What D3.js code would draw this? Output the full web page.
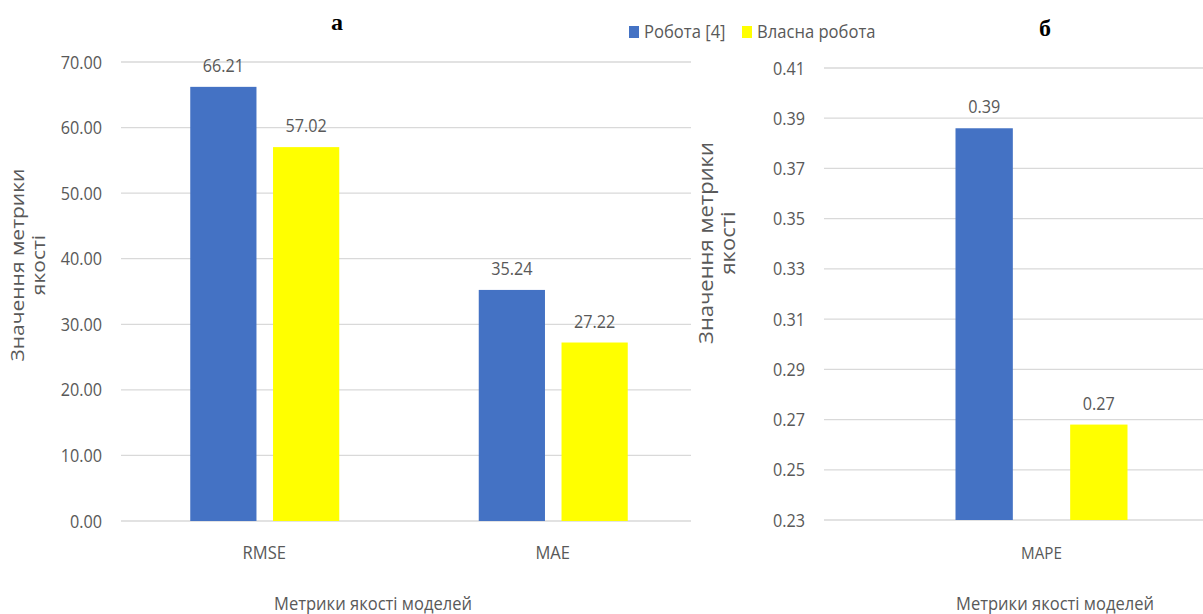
<!DOCTYPE html>
<html><head><meta charset="utf-8">
<script src="https://cdn.jsdelivr.net/npm/d3@7"></script>
<style>
body{margin:0;background:#fff;}
svg{display:block;}
.lab{font-family:"Open Sans","Noto Sans",sans-serif;fill:#595959;}
.ptitle{font-family:"Liberation Serif","Times New Roman",serif;font-weight:bold;fill:#000;}
</style></head>
<body>
<script>
const seriesNames = ["Робота [4]", "Власна робота"];
const seriesColors = ["#4472C4", "#FFFF00"];
const catsA = ["RMSE", "MAE"];
const valsA_work4 = [66.21, 35.24];
const valsA_own = [57.02, 27.22];
const ticksA = [0, 10, 20, 30, 40, 50, 60, 70];
const catsB = ["MAPE"];
const valsB_work4 = [0.386];
const valsB_own = [0.268];
const ticksB = [0.23, 0.25, 0.27, 0.29, 0.31, 0.33, 0.35, 0.37, 0.39, 0.41];
const xTitle = "Метрики якості моделей";
const yTitle1 = "Значення метрики";
const yTitle2 = "якості";

const W = 1203, H = 614;
const svg = d3.select("body").append("svg").attr("width", W).attr("height", H);

function label(sel, x, y, size, anchor, sx) {
  return sel.append("text").attr("class", "lab")
    .attr("transform", `translate(${x},${y}) scale(${sx || 0.92},1)`)
    .attr("text-anchor", anchor).style("font-size", size);
}

function panel(o) {
  const g = svg.append("g");
  const y = d3.scaleLinear().domain(o.domain).range([o.yBottom, o.yTop]);
  g.selectAll("line.grid").data(o.ticks).enter().append("line")
    .attr("x1", o.gridX[0]).attr("x2", o.gridX[1])
    .attr("y1", d => y(d)).attr("y2", d => y(d))
    .attr("stroke", "#d9d9d9").attr("stroke-width", 1.3);
  o.ticks.forEach(t => label(g, o.gridX[0] - 19, y(t) + 6.5, "18px", "end", 0.9).text(d3.format(o.fmt)(t)));
  const x0 = d3.scaleBand().domain(o.cats).range(o.bandRange);
  const x1 = d3.scaleBand().domain([0, 1]).range(o.subRange).paddingInner(o.subPad);
  const data = [];
  o.cats.forEach((c, i) => {
    o.series.forEach((s, j) => data.push({cat: c, j: j, v: s[i]}));
  });
  const cx = c => x0(c) + x0.bandwidth() / 2;
  g.selectAll("rect.bar").data(data).enter().append("rect")
    .attr("x", d => cx(d.cat) + x1(d.j))
    .attr("width", x1.bandwidth())
    .attr("y", d => y(d.v))
    .attr("height", d => y(o.domain[0]) - y(d.v))
    .attr("fill", d => seriesColors[d.j]);
  data.forEach(d => label(g, cx(d.cat) + x1(d.j) + x1.bandwidth() / 2, y(d.v) - 15, "18px", "middle", 0.9).text(d.v.toFixed(2)));
  o.cats.forEach(c => label(g, cx(c), 559, o.catSize, "middle").text(c));
  label(g, o.xTitleX, 610, "18px", "middle").text(xTitle);
  const yt = g.append("text").attr("class", "lab")
    .attr("transform", `translate(${o.yTitleX},${o.yTitleY}) scale(0.9,1) rotate(-90)`)
    .attr("text-anchor", "middle").style("font-size", o.yTitleSize);
  yt.append("tspan").attr("x", 0).attr("dy", 0).text(yTitle1);
  yt.append("tspan").attr("x", 0).attr("dy", o.yLine).text(yTitle2);
  g.append("text").attr("class", "ptitle").attr("x", o.titleX).attr("y", o.titleY)
    .attr("text-anchor", "middle").style("font-size", "24px").text(o.title);
}

panel({
  domain: [0, 70], ticks: ticksA, yBottom: 521, yTop: 62, gridX: [121, 691], fmt: ".2f",
  cats: catsA, series: [valsA_work4, valsA_own], bandRange: [120, 697], subRange: [-74, 75], subPad: 0.2,
  catSize: "18px", xTitleX: 373, yTitleX: 24, yTitleY: 265, yTitleSize: "21px", yLine: "23px",
  title: "а", titleX: 337, titleY: 30
});
panel({
  domain: [0.23, 0.41], ticks: ticksB, yBottom: 520, yTop: 68, gridX: [824, 1203], fmt: ".2f",
  cats: catsB, series: [valsB_work4, valsB_own], bandRange: [824, 1259], subRange: [-86, 86], subPad: 0.5,
  catSize: "16.5px", xTitleX: 1055, yTitleX: 713, yTitleY: 243, yTitleSize: "22px", yLine: "24px",
  title: "б", titleX: 1045, titleY: 36
});

const leg = svg.append("g");
const legX = [629, 742];
seriesNames.forEach((n, i) => {
  leg.append("rect").attr("x", legX[i]).attr("y", 26).attr("width", 10).attr("height", 12).attr("fill", seriesColors[i]);
  label(leg, legX[i] + 15, 38, "17.5px", "start", 0.95).text(n);
});
</script>
</body></html>
